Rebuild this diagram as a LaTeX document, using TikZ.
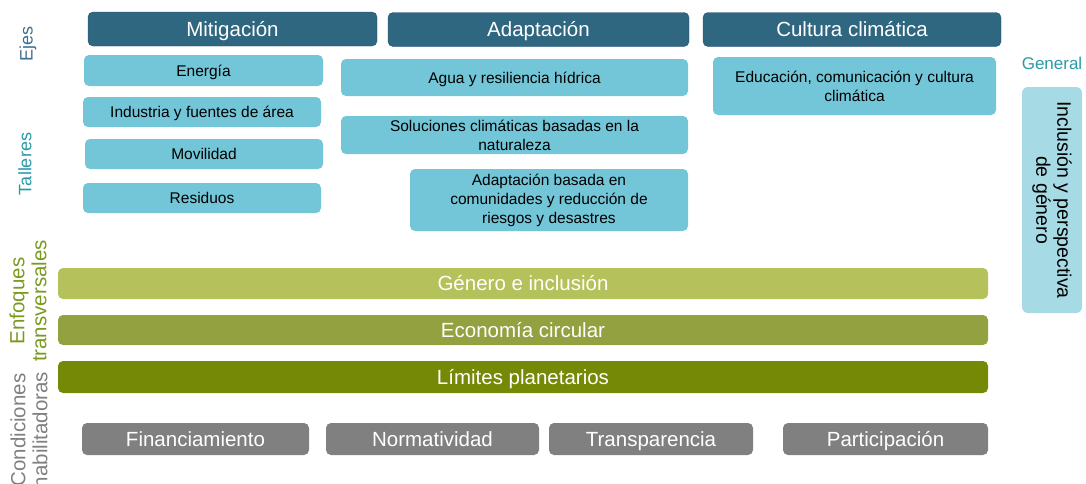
\documentclass[tikz,border=0pt]{standalone}
\usepackage{fontspec}
\setmainfont{Liberation Sans}
\usepackage{tikz}
\usetikzlibrary{positioning}
\definecolor{ejefill}{RGB}{47,103,128}
\definecolor{ejeline}{RGB}{42,78,120}
\definecolor{tallerfill}{RGB}{114,198,216}
\definecolor{generalfill}{RGB}{166,218,228}
\definecolor{genfill}{RGB}{181,193,91}
\definecolor{ecofill}{RGB}{147,161,65}
\definecolor{limfill}{RGB}{118,137,7}
\definecolor{condfill}{RGB}{128,128,128}
\definecolor{ejetext}{RGB}{60,112,144}
\definecolor{tealtext}{RGB}{42,154,166}
\definecolor{olivetext}{RGB}{122,154,30}
\definecolor{graytext}{RGB}{128,128,128}

\begin{document}
\begin{tikzpicture}[x=1pt, y=-1pt,
  oneline/.style = {text height=#1, text depth=0pt},
  eje/.style = {draw=ejeline, fill=ejefill, rounded corners=5, text=white, minimum height=34,
    font=\fontsize{20.5}{24}\selectfont, oneline=14.7pt},
  taller/.style = {fill=tallerfill, rounded corners=5, text=black, align=center, minimum height=30,
    font=\fontsize{15.5}{19}\selectfont},
  bar/.style = {rounded corners=5, text=white, minimum width=930, minimum height=31,
    font=\fontsize{20.5}{24}\selectfont, oneline=14.7pt},
  cond/.style = {fill=condfill, rounded corners=5, text=white, minimum height=32,
    font=\fontsize{20.5}{24}\selectfont, oneline=14.7pt},
  side/.style = {rotate=90, align=center, font=\fontsize{20.5}{22}\selectfont}]
\useasboundingbox (0,0) rectangle (1086,483);

% ejes
\node[eje, minimum width=289] (mitig) at (232.5,29) {Mitigación};
\node[eje, minimum width=301] (adapt) at (538.5,29.5) {Adaptación};
\node[eje, minimum width=298] (cultura) at (852,29.5) {Cultura climática};

% talleres de mitigacion
\node[taller, oneline=11.1pt, minimum width=239, minimum height=31] (energia) at (203.5,70.5) {Energía};
\node[taller, oneline=11.1pt, minimum width=238] (industria) at (202,112) {Industria y fuentes de área};
\node[taller, oneline=11.1pt, minimum width=238] (movilidad) at (204,154) {Movilidad};
\node[taller, oneline=11.1pt, minimum width=238] (residuos) at (202,198) {Residuos};

% talleres de adaptacion
\node[taller, oneline=11.1pt, minimum width=347, minimum height=37] (agua) at (514.5,77.5) {Agua y resiliencia hídrica};
\node[taller, minimum width=347, minimum height=38] (soluciones) at (514.5,135) {Soluciones climáticas basadas en la\\naturaleza};
\node[taller, minimum width=278, minimum height=62] (comunidades) at (549,200) {Adaptación basada en\\comunidades y reducción de\\riesgos y desastres};

% taller de cultura
\node[taller, minimum width=283, minimum height=58] (educacion) at (854.5,86) {Educación, comunicación y cultura\\climática};

% general
\node[text=tealtext, font=\fontsize{17}{20}\selectfont, oneline=12.2pt] (general) at (1052,63) {General};
\node[fill=generalfill, rounded corners=6, rotate=-90, align=center, minimum width=226, minimum height=60,
  font=\fontsize{19.5}{21}\selectfont] (inclusion) at (1052,200) {Inclusión y perspectiva\\de género};

% enfoques transversales
\node[bar, fill=genfill] (genero) at (523,283.5) {Género e inclusión};
\node[bar, fill=ecofill, minimum height=30] (economia) at (523,330) {Economía circular};
\node[bar, fill=limfill, minimum height=32] (limites) at (523,377) {Límites planetarios};

% condiciones habilitadoras
\node[cond, minimum width=227] (financ) at (195.5,439) {Financiamiento};
\node[cond, minimum width=213] (normat) at (432.5,439) {Normatividad};
\node[cond, minimum width=204] (transp) at (651,439) {Transparencia};
\node[cond, minimum width=205] (partic) at (885.5,439) {Participación};

% etiquetas laterales
\node[side, text=ejetext, font=\fontsize{18}{20}\selectfont] (ejes) at (28,44) {Ejes};
\node[side, text=tealtext, font=\fontsize{18}{20}\selectfont] (talleres) at (25,164) {Talleres};
\node[side, text=olivetext] (enfoques) at (28,301) {Enfoques\\transversales};
\node[side, text=graytext] (condiciones) at (29,430) {Condiciones\\habilitadoras};
\end{tikzpicture}
\end{document}
